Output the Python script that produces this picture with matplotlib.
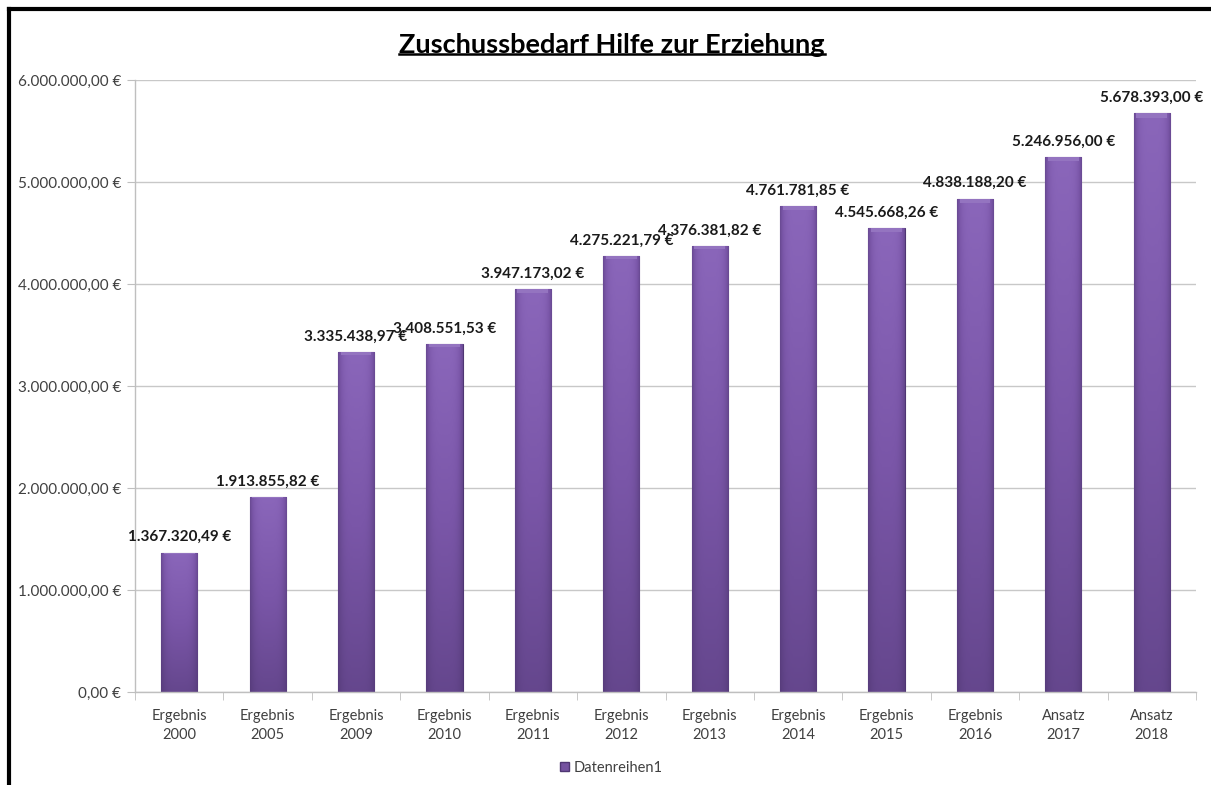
import numpy as np
import matplotlib
matplotlib.use("Agg")
import matplotlib.pyplot as plt
from matplotlib.lines import Line2D
from matplotlib.colors import LinearSegmentedColormap

# Daten
kategorien = ["Ergebnis\n2000", "Ergebnis\n2005", "Ergebnis\n2009", "Ergebnis\n2010",
              "Ergebnis\n2011", "Ergebnis\n2012", "Ergebnis\n2013", "Ergebnis\n2014",
              "Ergebnis\n2015", "Ergebnis\n2016", "Ansatz\n2017", "Ansatz\n2018"]
werte = [1367320.49, 1913855.82, 3335438.97, 3408551.53, 3947173.02, 4275221.79,
         4376381.82, 4761781.85, 4545668.26, 4838188.20, 5246956.00, 5678393.00]
y_ticks = [0, 1000000, 2000000, 3000000, 4000000, 5000000, 6000000]
serie = "Datenreihen1"
titel = "Zuschussbedarf Hilfe zur Erziehung"

plt.rcParams['font.family'] = ['Lato', 'DejaVu Sans']


def euro(v):
    s = f"{v:,.2f}".replace(",", "X").replace(".", ",").replace("X", ".")
    return s + " €"


fig = plt.figure(figsize=(12.11, 7.85), dpi=100)
ax = fig.add_axes([0.1115, 0.1185, 0.8761, 0.7795])

x = np.arange(len(werte))
bars = ax.bar(x, werte, width=0.41, color="#7552a0", edgecolor="#4f3673",
              linewidth=0.8, zorder=2)

# Verlauf in den Balken (heller oben, dunkler unten und an den Rändern)
cmap = LinearSegmentedColormap.from_list("lila", ["#4e3570", "#64468c", "#7a56a8", "#8a66ba"])
ny, nx_ = 100, 40
vert = np.linspace(0.35, 1.0, ny)[:, None]
hor = 1 - 0.55 * (np.abs(np.linspace(-1, 1, nx_)) ** 4)[None, :]
grad = vert * hor
for b in bars:
    bx, bw, bh = b.get_x(), b.get_width(), b.get_height()
    im = ax.imshow(grad, cmap=cmap, vmin=0, vmax=1, origin="lower", aspect="auto",
                   extent=(bx, bx + bw, 0, bh), zorder=2.5)
    im.set_clip_path(b)
    # leicht hellere Kante oben
    ax.bar(bx + bw / 2, bh * 0.008, bottom=bh * 0.992, width=bw * 0.85,
           color="#9474c0", linewidth=0, zorder=2.6)

for xi, v in zip(x, werte):
    ax.annotate(euro(v), (xi, v), xytext=(0, 6), textcoords="offset points",
                ha="center", va="bottom", fontsize=11, fontweight="bold", color="#1a1a1a")

ax.set_xlim(-0.5, len(werte) - 0.5)
ax.set_ylim(0, 6000000)
ax.set_yticks(y_ticks)
ax.set_yticklabels([euro(v) for v in y_ticks], fontsize=11, color="#404040")
ax.set_xticks(x)
ax.set_xticklabels(kategorien, fontsize=10.5, color="#404040", linespacing=1.45)
ax.set_xticks(np.arange(-0.5, len(werte)), minor=True)
ax.tick_params(axis="x", which="major", length=0, pad=12)
ax.tick_params(axis="x", which="minor", length=6, color="#bfbfbf", direction="out")
ax.tick_params(axis="y", length=6, color="#bfbfbf", direction="out", pad=4)

ax.grid(axis="y", color="#c8c8c8", linewidth=1, zorder=0)
ax.set_axisbelow(True)
for s in ["top", "right"]:
    ax.spines[s].set_visible(False)
for s in ["left", "bottom"]:
    ax.spines[s].set_color("#bfbfbf")
    ax.spines[s].set_linewidth(1)

handle = plt.Rectangle((0, 0), 1, 1, facecolor="#7552a0", edgecolor="#4f3673")
fig.legend([handle], [serie], loc="center", bbox_to_anchor=(0.505, 0.022),
           frameon=False, fontsize=10.5, handlelength=0.6, handleheight=0.6,
           handletextpad=0.3, labelcolor="#404040")

# Titel mit Unterstreichung
t = fig.text(0.5055, 0.943, titel, ha="center", va="center", fontsize=19.5,
             fontweight="bold", color="#000000")
fig.canvas.draw()
bb = t.get_window_extent().transformed(fig.transFigure.inverted())
fig.add_artist(Line2D([bb.x0, bb.x1], [bb.y0 + 0.003, bb.y0 + 0.003],
                      transform=fig.transFigure, color="black", linewidth=1.8))

# Rahmen links und oben
fig.add_artist(Line2D([0.0075, 0.0075], [0, 0.9885], transform=fig.transFigure,
                      color="black", linewidth=3))
fig.add_artist(Line2D([0.0075, 1.0], [0.9885, 0.9885], transform=fig.transFigure,
                      color="black", linewidth=3))

fig.savefig("out.png", dpi=100)
